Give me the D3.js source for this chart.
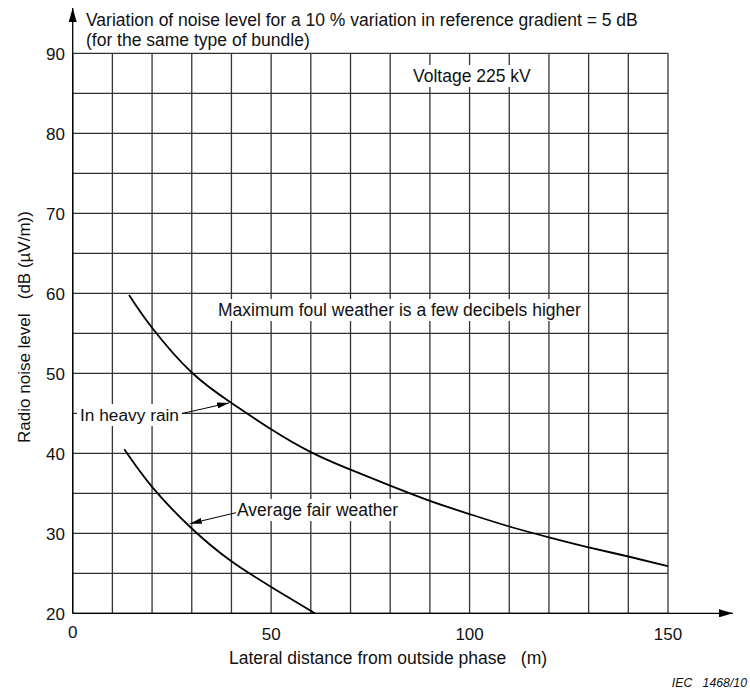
<!DOCTYPE html>
<html><head><meta charset="utf-8">
<script src="https://cdn.jsdelivr.net/npm/d3@7"></script>
<style>
html,body{margin:0;padding:0;background:#fff;}
svg{display:block;font-family:"Liberation Sans",Arial,sans-serif;}
text{white-space:pre;fill:#111;}
</style></head>
<body><svg id="c" width="750" height="690"></svg>
<script>
// ---- data ----
const heavyRainX = [14.2, 20, 30, 40, 50, 60, 70, 80, 90, 100, 110, 120, 130, 140, 150];
const heavyRainY = [59.8, 55.7, 50.1, 46.3, 43.0, 40.15, 37.95, 35.95, 34.05, 32.4, 30.85, 29.5, 28.25, 27.1, 25.9];
const fairX = [13, 20, 30, 40, 50, 61];
const fairY = [40.5, 35.8, 30.6, 26.5, 23.3, 20.0];
const xTicks = [0, 50, 100, 150];
const yTicks = [20, 30, 40, 50, 60, 70, 80, 90];
const xGrid = d3.range(0, 151, 10);
const yGrid = d3.range(20, 91, 5);

const svg = d3.select("#c");
const x = d3.scaleLinear().domain([0, 150]).range([72.7, 668]);
const y = d3.scaleLinear().domain([20, 90]).range([613.3, 53.3]);

// markers
const defs = svg.append("defs");
defs.append("marker").attr("id","ah").attr("viewBox","0 0 12 6").attr("refX",12).attr("refY",3)
  .attr("markerWidth",12).attr("markerHeight",6).attr("markerUnits","userSpaceOnUse").attr("orient","auto")
  .append("path").attr("d","M0,0 L12,3 L0,6 Z").attr("fill","#000");
defs.append("marker").attr("id","axh").attr("viewBox","0 0 14 8").attr("refX",14).attr("refY",4)
  .attr("markerWidth",14).attr("markerHeight",8).attr("markerUnits","userSpaceOnUse").attr("orient","auto")
  .append("path").attr("d","M0,0 L14,4 L0,8 Z").attr("fill","#000");

// grid
const g = svg.append("g");
g.selectAll(".vg").data(xGrid).enter().append("line")
  .attr("x1", d => x(d)).attr("x2", d => x(d)).attr("y1", y(20)).attr("y2", y(90))
  .attr("stroke", "#333").attr("stroke-width", 1.3);
g.selectAll(".hg").data(yGrid).enter().append("line")
  .attr("x1", x(0)).attr("x2", x(150)).attr("y1", d => y(d)).attr("y2", d => y(d))
  .attr("stroke", "#333").attr("stroke-width", 1.3);

// axes with arrows
svg.append("line").attr("x1", x(0)).attr("x2", x(0)).attr("y1", y(20)).attr("y2", 8)
  .attr("stroke","#000").attr("stroke-width",1.3).attr("marker-end","url(#axh)");
svg.append("line").attr("x1", x(0)).attr("x2", 733).attr("y1", y(20)).attr("y2", y(20))
  .attr("stroke","#000").attr("stroke-width",1.3).attr("marker-end","url(#axh)");

// tick labels
svg.selectAll(".yt").data(yTicks).enter().append("text")
  .attr("x", 65).attr("y", d => y(d) + 6.5).attr("text-anchor","end")
  .attr("font-size", 17).text(d => d);
svg.selectAll(".xt").data(xTicks).enter().append("text")
  .attr("x", d => x(d)).attr("y", d => d === 0 ? 637.5 : 639.5).attr("text-anchor","middle")
  .attr("font-size", 17).text(d => d);

// curves
const line = d3.line().x(d => x(d[0])).y(d => y(d[1])).curve(d3.curveNatural);
svg.append("path").datum(d3.zip(heavyRainX, heavyRainY)).attr("d", line)
  .attr("fill","none").attr("stroke","#000").attr("stroke-width",1.8);
svg.append("path").datum(d3.zip(fairX, fairY)).attr("d", line)
  .attr("fill","none").attr("stroke","#000").attr("stroke-width",1.8);

// labelled text with white background
function label(txt, px, py, size, anchor) {
  const gg = svg.append("g");
  const t = gg.append("text").attr("x", px).attr("y", py).attr("font-size", size)
    .attr("text-anchor", anchor || "start").text(txt);
  const b = t.node().getBBox();
  gg.insert("rect","text").attr("x", b.x - 3).attr("y", b.y - 1).attr("width", b.width + 6)
    .attr("height", b.height + 2).attr("fill", "#fff");
  return gg;
}
label("Voltage 225 kV", 413, 82, 17.5);
label("Maximum foul weather is a few decibels higher", 218, 316, 17.5);
label("In heavy rain", 80, 421, 17.3);
label("Average fair weather", 237, 516, 17.5);

// leader lines
svg.append("line").attr("x1", 182).attr("y1", 413.5).attr("x2", x(39.4)).attr("y2", y(46.3))
  .attr("stroke","#000").attr("stroke-width",1).attr("marker-end","url(#ah)");
svg.append("line").attr("x1", 236).attr("y1", 512.7).attr("x2", x(29.5)).attr("y2", y(31.2))
  .attr("stroke","#000").attr("stroke-width",1).attr("marker-end","url(#ah)");

// titles
svg.append("text").attr("x", 86).attr("y", 26).attr("font-size", 17.5)
  .text("Variation of noise level for a 10 % variation in reference gradient = 5 dB");
svg.append("text").attr("x", 86).attr("y", 45.5).attr("font-size", 17.5)
  .text("(for the same type of bundle)");

// axis titles
svg.append("text").attr("x", 229).attr("y", 664).attr("font-size", 17.5)
  .text("Lateral distance from outside phase   (m)");
svg.append("text").attr("transform", "translate(30,327) rotate(-90)").attr("text-anchor","middle")
  .attr("font-size", 17).text("Radio noise level   (dB (\u00B5V/m))");

// credit
svg.append("text").attr("x", 747).attr("y", 687).attr("text-anchor","end")
  .attr("font-size", 12.3).attr("font-style","italic").text("IEC   1468/10");
</script></body></html>
